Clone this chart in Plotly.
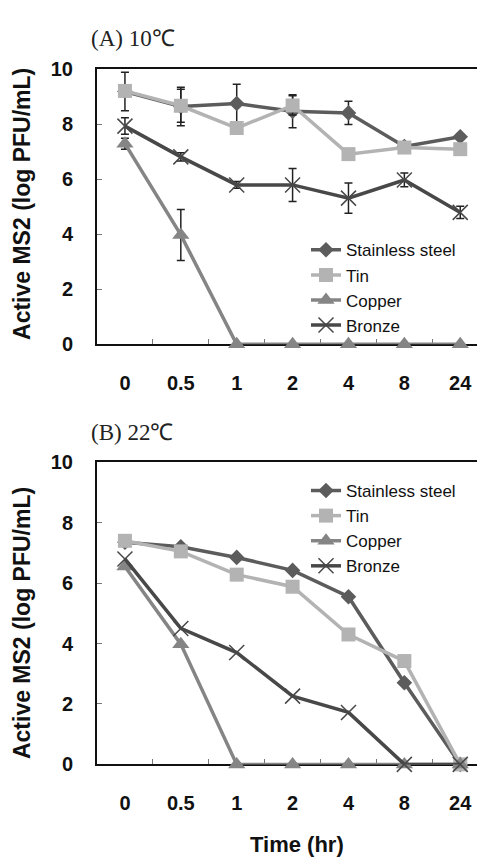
import plotly.graph_objects as go

times = ["0", "0.5", "1", "2", "4", "8", "24"]
series_names = ["Stainless steel", "Tin", "Copper", "Bronze"]

# Panel A (10 C)
a_steel = [9.2, 8.65, 8.76, 8.48, 8.42, 7.2, 7.55]
a_tin = [9.22, 8.68, 7.87, 8.69, 6.92, 7.16, 7.1]
a_copper = [7.3, 3.98, 0, 0, 0, 0, 0]
a_bronze = [7.94, 6.82, 5.8, 5.8, 5.32, 5.98, 4.8]
a_steel_err = [0.7, 0.7, 0.7, 0.6, 0.42, 0.1, 0.1]
a_tin_err = [0.1, 0.6, 0.1, 0.35, 0.1, 0.1, 0.1]
a_copper_err = [0.2, 0.93, 0, 0, 0, 0, 0]
a_bronze_err = [0.3, 0.15, 0.12, 0.6, 0.55, 0.25, 0.22]

# Panel B (22 C)
b_steel = [7.35, 7.2, 6.85, 6.42, 5.55, 2.7, 0]
b_tin = [7.4, 7.05, 6.28, 5.88, 4.3, 3.42, 0]
b_copper = [6.55, 3.98, 0, 0, 0, 0, 0]
b_bronze = [6.8, 4.5, 3.7, 2.26, 1.72, 0, 0]

colors = {"Stainless steel": "#5c5c5c", "Tin": "#b3b3b3", "Copper": "#858585", "Bronze": "#484848"}
symbols = {"Stainless steel": "diamond", "Tin": "square", "Copper": "triangle-up", "Bronze": "x-thin-open"}
sizes = {"Stainless steel": 12, "Tin": 14, "Copper": 15, "Bronze": 15}

fig = go.Figure()

panelA = [(a_steel, a_steel_err), (a_tin, a_tin_err), (a_copper, a_copper_err), (a_bronze, a_bronze_err)]
panelB = [b_steel, b_tin, b_copper, b_bronze]

def marker_for(name):
    m = dict(symbol=symbols[name], size=sizes[name], color=colors[name])
    if name == "Bronze":
        m["line"] = dict(color=colors[name], width=1.5)
    return m

for name, (vals, err) in zip(series_names, panelA):
    fig.add_trace(go.Scatter(
        x=times, y=vals, name=name, mode="lines+markers",
        line=dict(color=colors[name], width=3.5),
        marker=marker_for(name),
        error_y=dict(type="data", array=err, visible=True, color="#222222", thickness=1.5, width=4),
        xaxis="x", yaxis="y", legend="legend", cliponaxis=False,
    ))

for name, vals in zip(series_names, panelB):
    fig.add_trace(go.Scatter(
        x=times, y=vals, name=name, mode="lines+markers",
        line=dict(color=colors[name], width=3.5),
        marker=marker_for(name),
        xaxis="x2", yaxis="y2", legend="legend2", cliponaxis=False,
    ))

W, H = 477, 867
tickfont = dict(family="Liberation Sans, Arial", size=20, color="#111111", weight="bold")

def xaxis_cfg(anchor):
    return dict(
        type="category", categoryorder="array", categoryarray=times,
        range=[-0.5, 6.3], domain=[97 / W, 1.0], anchor=anchor,
        showline=True, linecolor="#111111", linewidth=2, mirror=True,
        ticks="inside", tickson="boundaries", ticklen=5, tickcolor="#777777",
        tickfont=tickfont, ticklabelstandoff=20, showgrid=False, zeroline=False,
        layer="below traces",
    )

def yaxis_cfg(anchor, dom):
    return dict(
        range=[0, 10], dtick=2, domain=dom, anchor=anchor,
        showline=True, linecolor="#111111", linewidth=2,
        ticks="inside", ticklen=5, tickcolor="#777777",
        tickfont=tickfont, ticklabelstandoff=18, showgrid=False, zeroline=False,
        layer="below traces",
    )

legfont = dict(family="Liberation Sans, Arial", size=17, color="#111111")
fig.update_layout(
    width=W, height=H, margin=dict(l=0, r=0, t=0, b=0),
    plot_bgcolor="white", paper_bgcolor="white",
    xaxis=xaxis_cfg("y"),
    yaxis=yaxis_cfg("x", [1 - 342 / H, 1 - 60 / H]),
    xaxis2=xaxis_cfg("y2"),
    yaxis2=yaxis_cfg("x2", [1 - 773 / H, 1 - 463 / H]),
    legend=dict(x=306 / W, y=1 - 227 / H, xanchor="left", yanchor="top",
                font=legfont, bgcolor="rgba(0,0,0,0)", tracegroupgap=0, itemwidth=30),
    legend2=dict(x=306 / W, y=1 - 474 / H, xanchor="left", yanchor="top",
                 font=legfont, bgcolor="rgba(0,0,0,0)", tracegroupgap=0, itemwidth=30),
    showlegend=True,
)

serif = dict(family="Liberation Serif, Times New Roman", size=23, color="#222222")
bold = dict(family="Liberation Sans, Arial", size=23, color="#111111", weight="bold")
fig.add_annotation(text="(A) 10℃", x=89 / W, y=1 - 28 / H, xref="paper", yref="paper",
                   xanchor="left", yanchor="middle", showarrow=False, font=serif)
fig.add_annotation(text="(B) 22℃", x=89 / W, y=1 - 432 / H, xref="paper", yref="paper",
                   xanchor="left", yanchor="middle", showarrow=False, font=serif)
for yc in (198, 628):
    fig.add_annotation(text="Active MS2 (log PFU/mL)", x=22 / W, y=1 - yc / H,
                       xref="paper", yref="paper", textangle=-90, showarrow=False,
                       xanchor="center", yanchor="middle", font=bold)
fig.add_annotation(text="Time (hr)", x=297 / W, y=1 - 855 / H, xref="paper", yref="paper",
                   showarrow=False, xanchor="center", yanchor="middle",
                   font=dict(family="Liberation Sans, Arial", size=22, color="#111111", weight="bold"))

fig.write_html("out.html", config={"displayModeBar": False},
               post_script="document.body.style.margin='0';document.body.style.overflow='hidden';")
